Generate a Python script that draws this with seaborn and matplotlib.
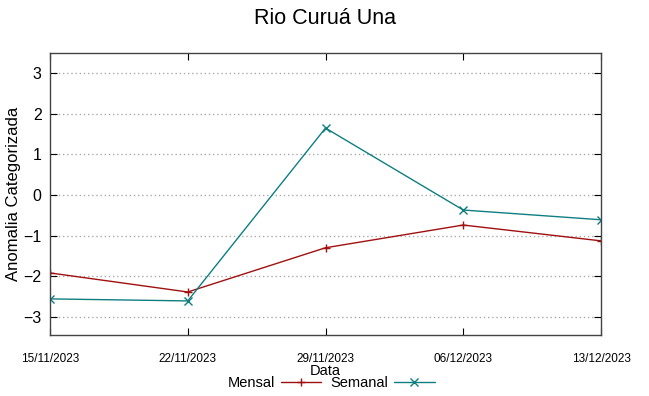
import pandas as pd
import matplotlib
matplotlib.use("Agg")
import matplotlib.pyplot as plt
import matplotlib.dates as mdates
import seaborn as sns

# data
datas = ['2023-11-15', '2023-11-22', '2023-11-29', '2023-12-06', '2023-12-13']
mensal = [-1.92, -2.39, -1.30, -0.74, -1.13]
semanal = [-2.56, -2.61, 1.65, -0.37, -0.61]
series = ['Mensal', 'Semanal']
cores = {'Mensal': '#a01010', 'Semanal': '#0e7f80'}
marcadores = {'Mensal': '+', 'Semanal': 'x'}

df = pd.DataFrame({
    'Data': pd.to_datetime(datas * 2),
    'valor': mensal + semanal,
    'serie': ['Mensal'] * len(datas) + ['Semanal'] * len(datas),
})

sns.set_style('white')
plt.rcParams['font.family'] = ['Liberation Sans', 'DejaVu Sans']
plt.rcParams['text.color'] = 'black'
plt.rcParams['axes.labelcolor'] = 'black'
plt.rcParams['xtick.color'] = 'black'
plt.rcParams['ytick.color'] = 'black'

fig = plt.figure(figsize=(6.49, 3.96), dpi=100)
ax = fig.add_axes([50 / 649, 1 - 335 / 396, 551 / 649, 282 / 396])

sns.lineplot(data=df, x='Data', y='valor', hue='serie', style='serie',
             palette=cores, markers=marcadores, dashes=False,
             linewidth=1, markersize=5.5, ax=ax)
# seaborn paints marker edges white; give them the line colour
for ln in ax.get_lines():
    ln.set_markeredgecolor(ln.get_color())
    ln.set_markeredgewidth(1)

ax.set_xlim(df['Data'].min(), df['Data'].max())
ax.set_ylim(-3.45, 3.5)
ax.set_xticks(pd.to_datetime(datas))
ax.xaxis.set_major_formatter(mdates.DateFormatter('%d/%m/%Y'))
ax.set_yticks(range(-3, 4))
ax.yaxis.grid(True, color='#aaaaaa', linestyle=(0, (1, 2)), linewidth=1)
ax.xaxis.grid(False)

for s in ax.spines.values():
    s.set_color('#444444')
    s.set_linewidth(1)
ax.tick_params(axis='x', direction='in', length=5, pad=13, labelsize=8.5,
               top=True, bottom=True)
ax.tick_params(axis='y', direction='in', length=5, pad=6, labelsize=11.5,
               left=True, right=True)
for lbl in ax.get_xticklabels():
    lbl.set_family(['Liberation Sans Narrow', 'Liberation Sans'])

ax.set_title('Rio Curuá Una', fontsize=15.5, pad=21)
ax.set_xlabel('Data', fontsize=10.5, labelpad=-1)
ax.set_ylabel('Anomalia Categorizada', fontsize=12, labelpad=2)

handles, labels = ax.get_legend_handles_labels()
for h in handles:
    h.set_markeredgecolor(h.get_color())
    h.set_markeredgewidth(1)
ax.legend(handles, labels, loc='center', bbox_to_anchor=(0.51, 1 - 383 / 396),
          bbox_transform=fig.transFigure, ncol=2, frameon=False,
          markerfirst=False, fontsize=10.5, handlelength=2.8,
          columnspacing=0.6, handletextpad=0.4, borderpad=0)

fig.savefig('out.png', dpi=100)
